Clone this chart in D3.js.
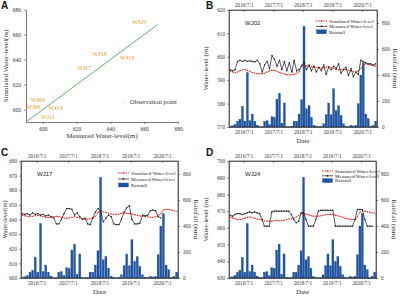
<!DOCTYPE html>
<html>
<head>
<meta charset="utf-8">
<script src="https://cdn.jsdelivr.net/npm/d3@7"></script>
<style>
  body { margin: 0; background: #fff; }
  svg { display: block; }
</style>
</head>
<body>
<svg id="fig" width="400" height="297"></svg>
<script>
// ---- data ----
// panel A: observation wells, measured vs simulated level (m)
const wells = ["WJ24", "WJ18", "WJ19", "WJ17", "WJ04", "WJ06", "WJ14", "WJ11"];
const wellMeasured = [657, 633.5, 650, 624.5, 597, 594.5, 607.5, 603];
const wellSimulated = [670, 644.5, 641, 633, 607.5, 602, 601, 594];

// panels B-D: monthly series, Jan 2016 .. Dec 2020
const years = [2016, 2017, 2018, 2019, 2020];
const tickDates = ["2016-07-01", "2017-07-01", "2018-07-01", "2019-07-01", "2020-07-01"];

const rainfall = [
  5, 10, 20, 45, 60, 160, 45, 420, 50, 100, 45, 15,
  5, 3, 45, 50, 20, 80, 75, 215, 260, 30, 185, 5,
  3, 5, 45, 45, 100, 210, 775, 140, 165, 75, 13, 5,
  3, 5, 25, 95, 185, 95, 295, 128, 165, 90, 25, 5,
  5, 13, 8, 13, 180, 400, 495, 100, 65, 5, 13, 45
];

const wj02Measured = [
  594.5, 594, 594.5, 598, 598.5, 598, 598.5, 598, 598.3, 598, 597.8, 598.5,
  597, 593.5, 596.5, 598, 595, 600.5, 599, 596, 598.5, 594.5, 598, 594,
  597.5, 593.5, 598.5, 594, 594.5, 596, 597.5, 594.5, 596.5, 594, 596, 593.5,
  595.5, 594, 596.5, 592.5, 595.5, 594.5, 596, 595, 597, 593, 594.5, 595.5,
  592, 595, 591.5, 593.5, 592.5, 598.5, 598, 597.5, 597, 597, 596.5, 597
];
const wj02Simulated = [
  594, 593.5, 593.2, 593.5, 594, 594.5, 594.6, 594.3, 593.8, 593.3, 593, 592.8,
  592.7, 592.8, 593, 593.5, 594, 594.3, 594.2, 593.8, 593.3, 593, 592.6, 592.4,
  592.3, 592.3, 592.5, 593, 593.5, 596.5, 596.4, 596.2, 596, 595.8, 595.6, 595.4,
  595.3, 595.2, 595.3, 595.6, 595.8, 595.5, 595, 594.6, 594.4, 594.5, 594.8, 594.5,
  594.2, 594, 593.6, 593.5, 594, 595, 596.5, 597, 596.8, 596.5, 596.2, 596
];

const wj17Measured = [
  644, 643.5, 644, 643, 644.5, 643.5, 644, 643, 643.5, 642.5, 643, 642,
  641, 637, 637, 640, 644, 647.5, 647.5, 647, 643, 644.5, 642, 640,
  641, 637, 636.5, 641, 645, 647.5, 646, 638.5, 641, 643, 642, 637,
  636.5, 636.5, 640, 645, 648, 649.5, 640, 637, 637, 637.5, 643, 642.5,
  643, 646, 646.5, 646, 642, 641, null, null, null, null, null, null
];
const wj17Simulated = [
  643, 642.5, 642.2, 642, 642.2, 642.6, 642.8, 642.5, 642, 641.6, 641.3, 641.5,
  641.8, 642.2, 642, 641.5, 641, 640.8, 641, 641.5, 641.8, 641.5, 641, 640.5,
  640.3, 640.2, 640.5, 641, 642, 645, 645.6, 645.3, 644.8, 644.2, 643.8, 643.5,
  643.5, 643.8, 644.2, 644.5, 644.3, 644, 643.8, 643.2, 642.8, 642.5, 642.3, 642,
  641.8, 641.5, 641.5, 641.8, 642.5, 644, 646.5, 647, 646.8, 646.5, 646, 645.5
];

const wj24Measured = [
  667.5, 667, 668, 668.5, 668.5, 668, 668.5, 669, 669.5, 669, 669.5, 669,
  668.5, 665, 661, 661, 661, 669.5, 670, 670, 670, 670, 670, 670,
  670, 668, 665, 663, 664, 669, 669, 665, 661, 661, 661, 665,
  670, 670.5, 670.5, 670.5, 670.5, 670.5, 670.5, 661, 661, 661, 661, 661,
  661, 661, 661, 665, 671, 671, 671, 665, 661, 661, 661, null
];
const wj24Simulated = [
  666.5, 666, 665.5, 665, 665, 665.3, 665.8, 666.3, 666.5, 666.2, 665.8, 665.3,
  665, 664.8, 664.3, 664, 664, 664, 664.2, 664.5, 664.3, 664.2, 664.5, 665,
  665.3, 665.5, 665.8, 666.5, 667.5, 668.5, 668.6, 668.2, 667.8, 667.3, 667, 667,
  667, 667.2, 667.5, 667.8, 668, 668.2, 668, 667.6, 667.2, 666.8, 666.3, 665.8,
  665.4, 665.2, 665, 665.2, 666.5, 669.5, 670.2, 670, 669.7, 669.4, 669, 668.8
];

// ---- setup ----
const serif = "'Liberation Serif','Times New Roman',serif";
const sans = "'Liberation Sans',Arial,sans-serif";
const svg = d3.select("#fig");

// month mid-points for the series
const months = [];
years.forEach((y) => d3.range(12).forEach((m) => months.push(new Date(y, m, 15))));

function styleAxis(g, size) {
  g.selectAll("text").style("font-family", serif).style("font-size", size + "px").attr("fill", "#333");
  g.selectAll("line").attr("stroke", "#222").attr("stroke-width", 0.5);
  g.selectAll("path").attr("stroke", "#222").attr("stroke-width", 0.6);
}

function panelLetter(x, y, t) {
  svg.append("text").attr("x", x).attr("y", y).text(t)
    .style("font-family", sans).style("font-weight", "bold").style("font-size", "10px").attr("fill", "#111");
}

// ---- panel A ----
const xA = d3.scaleLinear().domain([590, 680]).range([26, 178]);
const yA = d3.scaleLinear().domain([590, 680]).range([122, 9.5]);
const axTicksA = [600, 620, 640, 660, 680];

svg.append("g").attr("transform", "translate(0,122)")
  .call(d3.axisBottom(xA).tickValues(axTicksA).tickSize(2).tickSizeOuter(0).tickPadding(3))
  .call((g) => styleAxis(g, 5.5));
svg.append("g").attr("transform", "translate(26,0)")
  .call(d3.axisLeft(yA).tickValues(axTicksA).tickSize(2).tickSizeOuter(0).tickPadding(3))
  .call((g) => styleAxis(g, 5.5));

// 1:1 line
svg.append("line")
  .attr("x1", xA(590)).attr("y1", yA(590)).attr("x2", xA(668)).attr("y2", yA(668))
  .attr("stroke", "#3c9a45").attr("stroke-width", 0.8);

svg.append("g").selectAll("circle").data(wells).join("circle")
  .attr("cx", (d, i) => xA(wellMeasured[i]))
  .attr("cy", (d, i) => yA(wellSimulated[i]))
  .attr("r", 0.6).attr("fill", "#9fd09f");

svg.append("g").selectAll("text").data(wells).join("text")
  .attr("x", (d, i) => xA(wellMeasured[i]))
  .attr("y", (d, i) => yA(wellSimulated[i]) + 2)
  .attr("text-anchor", "middle")
  .text((d) => d)
  .style("font-family", serif).style("font-size", "6px").attr("fill", "#e6a01e");

svg.append("circle").attr("cx", 125).attr("cy", 102).attr("r", 0.6).attr("fill", "#9fd09f");
svg.append("text").attr("x", 130).attr("y", 104).text("Observation point")
  .style("font-family", serif).style("font-size", "6.5px").attr("fill", "#333");

svg.append("text").attr("x", 102).attr("y", 138).attr("text-anchor", "middle")
  .text("Measured Water-level(m)").style("font-family", serif).style("font-size", "7px").attr("fill", "#333");
svg.append("text").attr("transform", "translate(8,66) rotate(-90)").attr("text-anchor", "middle")
  .text("Simulated Water-level(m)").style("font-family", serif).style("font-size", "7px").attr("fill", "#333");
panelLetter(1, 9, "A");

// ---- panels B-D ----
function drawSeries(p) {
  const x = d3.scaleTime().domain([new Date(2016, 0, 1), new Date(2021, 0, 1)]).range([p.left, p.right]);
  const y = d3.scaleLinear().domain(p.yDomain).range([p.bottom, p.top]);
  const yR = d3.scaleLinear().domain([0, 900]).range([p.bottom, p.top]);
  const ticks = tickDates.map((s) => d3.timeParse("%Y-%m-%d")(s));
  const fmt = d3.timeFormat("%Y/%-m/%-d");
  const g = svg.append("g");

  // rainfall bars
  g.append("g").selectAll("rect").data(rainfall).join("rect")
    .attr("x", (d, i) => x(months[i]) - 1.05)
    .attr("y", (d) => yR(d))
    .attr("width", 2.1)
    .attr("height", (d) => p.bottom - yR(d))
    .attr("fill", "#1f55a6").attr("stroke", "#153d7d").attr("stroke-width", 0.2);

  // simulated (red dashed with dots)
  const lineSim = d3.line().x((d, i) => x(months[i])).y((d) => y(d));
  g.append("path").datum(p.sim).attr("d", lineSim)
    .attr("fill", "none").attr("stroke", "#e3241b").attr("stroke-width", 0.9).attr("stroke-dasharray", "1.6,0.9");
  g.append("g").selectAll("circle").data(p.sim).join("circle")
    .attr("cx", (d, i) => x(months[i])).attr("cy", (d) => y(d)).attr("r", 0.55).attr("fill", "#e3241b");

  // measured (black with square markers)
  const lineMeas = d3.line().defined((d) => d != null).x((d, i) => x(months[i])).y((d) => y(d));
  g.append("path").datum(p.meas).attr("d", lineMeas)
    .attr("fill", "none").attr("stroke", "#111").attr("stroke-width", 0.7);
  g.append("g").selectAll("rect").data(p.meas.map((d, i) => [d, i]).filter((d) => d[0] != null)).join("rect")
    .attr("x", (d) => x(months[d[1]]) - 0.6).attr("y", (d) => y(d[0]) - 0.6)
    .attr("width", 1.2).attr("height", 1.2).attr("fill", "#111");

  // axes
  g.append("g").attr("transform", `translate(0,${p.bottom})`)
    .call(d3.axisBottom(x).tickValues(ticks).tickFormat(fmt).tickSize(-2).tickSizeOuter(0).tickPadding(3))
    .call((a) => styleAxis(a, 5.2));
  g.append("g").attr("transform", `translate(0,${p.top})`)
    .call(d3.axisTop(x).tickValues(ticks).tickFormat(fmt).tickSize(-2).tickSizeOuter(0).tickPadding(3))
    .call((a) => styleAxis(a, 5.2));
  g.append("g").attr("transform", `translate(${p.left},0)`)
    .call(d3.axisLeft(y).tickValues(p.yTicks).tickSize(2).tickSizeOuter(0).tickPadding(2))
    .call((a) => styleAxis(a, 5.2));
  g.append("g").attr("transform", `translate(${p.right},0)`)
    .call(d3.axisRight(yR).tickValues([0, 200, 400, 600, 800]).tickSize(2).tickSizeOuter(0).tickPadding(3))
    .call((a) => styleAxis(a, 5.2));

  // titles
  g.append("text").attr("x", p.left + 16).attr("y", p.top + 15).text(p.name)
    .style("font-family", sans).style("font-size", "6px").attr("fill", "#222");
  g.append("text").attr("x", (p.left + p.right) / 2).attr("y", p.bottom + 16).attr("text-anchor", "middle")
    .text("Date").style("font-family", serif).style("font-size", "7px").attr("fill", "#333");
  g.append("text").attr("transform", `translate(${p.left - p.titleGap},${(p.top + p.bottom) / 2}) rotate(-90)`)
    .attr("text-anchor", "middle").text(p.leftTitle)
    .style("font-family", serif).style("font-size", p.titleSize + "px").attr("fill", "#333");
  g.append("text").attr("transform", `translate(${p.right + 16},${(p.top + p.bottom) / 2}) rotate(90)`)
    .attr("text-anchor", "middle").text("Rainfall (mm)")
    .style("font-family", serif).style("font-size", "7px").attr("fill", "#333");

  // legend
  const lg = g.append("g").attr("transform", `translate(${p.legend[0]},${p.legend[1]})`)
    .style("font-family", serif).style("font-size", "5px").attr("fill", "#222");
  const dy = p.legendStep;
  lg.append("line").attr("x1", 0).attr("x2", 11).attr("y1", 0).attr("y2", 0)
    .attr("stroke", "#e3241b").attr("stroke-width", 0.9).attr("stroke-dasharray", "1.6,0.9");
  lg.append("circle").attr("cx", 5.5).attr("cy", 0).attr("r", 0.8).attr("fill", "#e3241b");
  lg.append("text").attr("x", 13).attr("y", 1.7).text("Simulated Water-level");
  lg.append("line").attr("x1", 0).attr("x2", 11).attr("y1", dy).attr("y2", dy)
    .attr("stroke", "#111").attr("stroke-width", 0.7);
  lg.append("rect").attr("x", 4.8).attr("y", dy - 0.7).attr("width", 1.4).attr("height", 1.4).attr("fill", "#111");
  lg.append("text").attr("x", 13).attr("y", dy + 1.7).text("Measured Water-level");
  lg.append("rect").attr("x", 0.5).attr("y", 2 * dy - 2).attr("width", 10).attr("height", 4)
    .attr("fill", "#1f55a6").attr("stroke", "#153d7d").attr("stroke-width", 0.3);
  lg.append("text").attr("x", 13).attr("y", 2 * dy + 1.7).text("Rainfall");

  // frame
  g.append("rect").attr("x", p.left).attr("y", p.top).attr("width", p.right - p.left).attr("height", p.bottom - p.top)
    .attr("fill", "none").attr("stroke", "#222").attr("stroke-width", 0.6);
}

drawSeries({
  left: 229, right: 377, top: 10, bottom: 127,
  yDomain: [570, 620], yTicks: [570, 580, 590, 600, 610, 620],
  meas: wj02Measured, sim: wj02Simulated, name: "WJ02",
  leftTitle: "Water-level (m)", titleGap: 21, titleSize: 7, legend: [316, 21], legendStep: 5.4
});
panelLetter(206, 9, "B");

drawSeries({
  left: 21, right: 178, top: 161, bottom: 278,
  yDomain: [600, 680], yTicks: d3.range(600, 681, 10),
  meas: wj17Measured, sim: wj17Simulated, name: "WJ17",
  leftTitle: "Water-level(m)", titleGap: 14.5, titleSize: 6.3, legend: [118, 173], legendStep: 6
});
panelLetter(1, 156, "C");

drawSeries({
  left: 229, right: 376, top: 161, bottom: 278,
  yDomain: [630, 700], yTicks: d3.range(630, 701, 10),
  meas: wj24Measured, sim: wj24Simulated, name: "WJ24",
  leftTitle: "Water-level (m)", titleGap: 21, titleSize: 7, legend: [322, 171], legendStep: 4.8
});
panelLetter(206, 156, "D");
</script>
</body>
</html>
